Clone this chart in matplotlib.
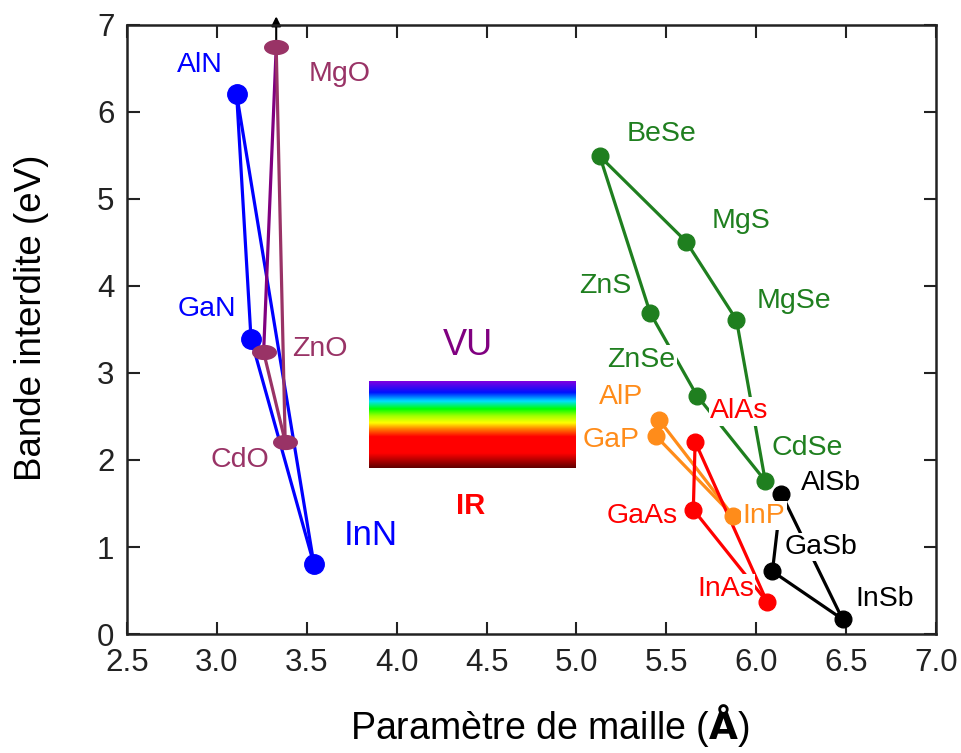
import numpy as np
import matplotlib.pyplot as plt
from matplotlib.colors import LinearSegmentedColormap
from matplotlib.path import Path

plt.rcParams['font.family'] = ['Liberation Sans', 'DejaVu Sans']

# parametre de maille (A) et bande interdite (eV)
nitrures = ['AlN', 'GaN', 'InN']
nitrures_a = [3.11, 3.19, 3.54]
nitrures_eg = [6.2, 3.39, 0.8]

oxydes = ['MgO', 'ZnO', 'CdO']
oxydes_a = [3.33, 3.26, 3.38]
oxydes_eg = [6.74, 3.24, 2.21]

ii_vi = ['BeSe', 'MgS', 'MgSe', 'ZnS', 'ZnSe', 'CdSe']
ii_vi_a = [5.13, 5.61, 5.89, 5.41, 5.67, 6.05]
ii_vi_eg = [5.49, 4.51, 3.61, 3.69, 2.74, 1.76]

phosphures = ['AlP', 'GaP', 'InP']
phosphures_a = [5.46, 5.44, 5.87]
phosphures_eg = [2.46, 2.28, 1.36]

arseniures = ['AlAs', 'GaAs', 'InAs']
arseniures_a = [5.66, 5.65, 6.06]
arseniures_eg = [2.21, 1.43, 0.37]

antimoniures = ['AlSb', 'GaSb', 'InSb']
antimoniures_a = [6.14, 6.09, 6.48]
antimoniures_eg = [1.61, 0.72, 0.17]

x_ticks = [2.5, 3.0, 3.5, 4.0, 4.5, 5.0, 5.5, 6.0, 6.5, 7.0]
y_ticks = [0, 1, 2, 3, 4, 5, 6, 7]

bleu = '#0000ff'
mauve = '#993366'
violet = '#800080'
vert = '#1f7f1f'
orange = '#ff8c1a'
rouge = '#ff0000'

fig = plt.figure(figsize=(9.62, 7.53), dpi=100)
ax = fig.add_axes([0.132, 0.158, 0.841, 0.809])


def relier(a, eg, paires, couleur, lw=2.3):
    for i, j in paires:
        ax.plot([a[i], a[j]], [eg[i], eg[j]], color=couleur, lw=lw, zorder=2)


def etiquette(x, y, texte, couleur, taille=20.5, **kw):
    ax.text(x, y, texte, color=couleur, fontsize=taille, ha='center', va='center', zorder=4,
            bbox=dict(boxstyle='square,pad=0.05', fc='white', ec='none'), **kw)


# ellipse pour les oxydes
t = np.linspace(0, 2 * np.pi, 40)
ellipse = Path(np.column_stack([1.7 * np.cos(t), np.sin(t)]))

# nitrures
relier(nitrures_a, nitrures_eg, [(0, 1), (0, 2), (1, 2)], bleu)
ax.plot(nitrures_a, nitrures_eg, 'o', color=bleu, ms=14, zorder=5)

# oxydes
ax.annotate('', xy=(oxydes_a[0], 7.13), xytext=(oxydes_a[0], oxydes_eg[0]),
            arrowprops=dict(arrowstyle='-|>', color='black', lw=1.5, mutation_scale=14),
            annotation_clip=False, zorder=1)
relier(oxydes_a, oxydes_eg, [(0, 1)], violet)
relier(oxydes_a, oxydes_eg, [(0, 2), (1, 2)], mauve)
ax.plot(oxydes_a, oxydes_eg, marker=ellipse, ls='none', color=mauve, ms=17, zorder=5)

# II-VI
relier(ii_vi_a, ii_vi_eg, [(0, 1), (1, 2), (2, 5), (0, 3), (3, 4), (4, 5)], vert)
ax.plot(ii_vi_a, ii_vi_eg, 'o', color=vert, ms=12, zorder=3)

# III-V
relier(phosphures_a, phosphures_eg, [(0, 2), (1, 2)], orange)
ax.plot(phosphures_a, phosphures_eg, 'o', color=orange, ms=12, zorder=3)
relier(arseniures_a, arseniures_eg, [(0, 1), (0, 2), (1, 2)], rouge)
ax.plot(arseniures_a, arseniures_eg, 'o', color=rouge, ms=12, zorder=3)
relier(antimoniures_a, antimoniures_eg, [(0, 1), (0, 2), (1, 2)], 'black')
ax.plot(antimoniures_a, antimoniures_eg, 'o', color='black', ms=12, zorder=3)

# etiquettes
pos_nitrures = [(2.906, 6.54), (2.944, 3.74), (3.856, 1.13)]
for (x, y), nom, taille in zip(pos_nitrures, nitrures, [20.5, 20.5, 25]):
    etiquette(x, y, nom, bleu, taille)
pos_oxydes = [(3.683, 6.44), (3.572, 3.28), (3.128, 2.0)]
for (x, y), nom in zip(pos_oxydes, oxydes):
    etiquette(x, y, nom, mauve)
pos_ii_vi = [(5.472, 5.75), (5.917, 4.75), (6.211, 3.83), (5.161, 4.0), (5.361, 3.15), (6.283, 2.14)]
for (x, y), nom in zip(pos_ii_vi, ii_vi):
    etiquette(x, y, nom, vert)
pos_phosphures = [(5.25, 2.72), (5.194, 2.23), (6.044, 1.36)]
for (x, y), nom in zip(pos_phosphures, phosphures):
    etiquette(x, y, nom, orange)
pos_arseniures = [(5.906, 2.56), (5.367, 1.36), (5.828, 0.52)]
for (x, y), nom in zip(pos_arseniures, arseniures):
    etiquette(x, y, nom, rouge)
pos_antimoniures = [(6.417, 1.74), (6.361, 1.0), (6.717, 0.40)]
for (x, y), nom in zip(pos_antimoniures, antimoniures):
    etiquette(x, y, nom, 'black')

# spectre visible
spectre = LinearSegmentedColormap.from_list('spectre', [
    (0.0, '#600000'), (0.17, '#ff0000'), (0.36, '#ff0000'), (0.45, '#ff8000'),
    (0.52, '#ffff00'), (0.60, '#a0ff00'), (0.68, '#00ff00'), (0.77, '#00e0ff'),
    (0.87, '#0010ff'), (1.0, '#8000e0')])
grad = np.linspace(0, 1, 256).reshape(-1, 1)
ax.imshow(grad, extent=[3.846, 4.997, 1.91, 2.9], origin='lower', cmap=spectre,
          aspect='auto', zorder=1)
ax.text(4.394, 3.32, 'VU', color=violet, fontsize=26, ha='center', va='center')
ax.text(4.411, 1.47, 'IR', color=rouge, fontsize=21, fontweight='bold', ha='center', va='center')

ax.set_xlim(2.5, 7.0)
ax.set_ylim(0, 7)
ax.set_xticks(x_ticks)
ax.set_xticklabels([f'{v:.1f}' for v in x_ticks])
ax.set_yticks(y_ticks)
ax.tick_params(direction='in', length=9, width=1.5, labelsize=22.5, top=True, right=True,
               colors='#222222')
ax.tick_params(axis='x', pad=10)
ax.tick_params(axis='y', pad=9)
for s in ax.spines.values():
    s.set_linewidth(1.8)
    s.set_color('#222222')

fig.text(0.572, 0.036, 'Paramètre de maille ($\\mathbf{\\AA}$)', fontsize=27,
         ha='center', va='center')
fig.text(0.033, 0.578, 'Bande interdite (eV)', fontsize=26.5, rotation=90,
         ha='center', va='center')

fig.savefig('out.png', dpi=100)
